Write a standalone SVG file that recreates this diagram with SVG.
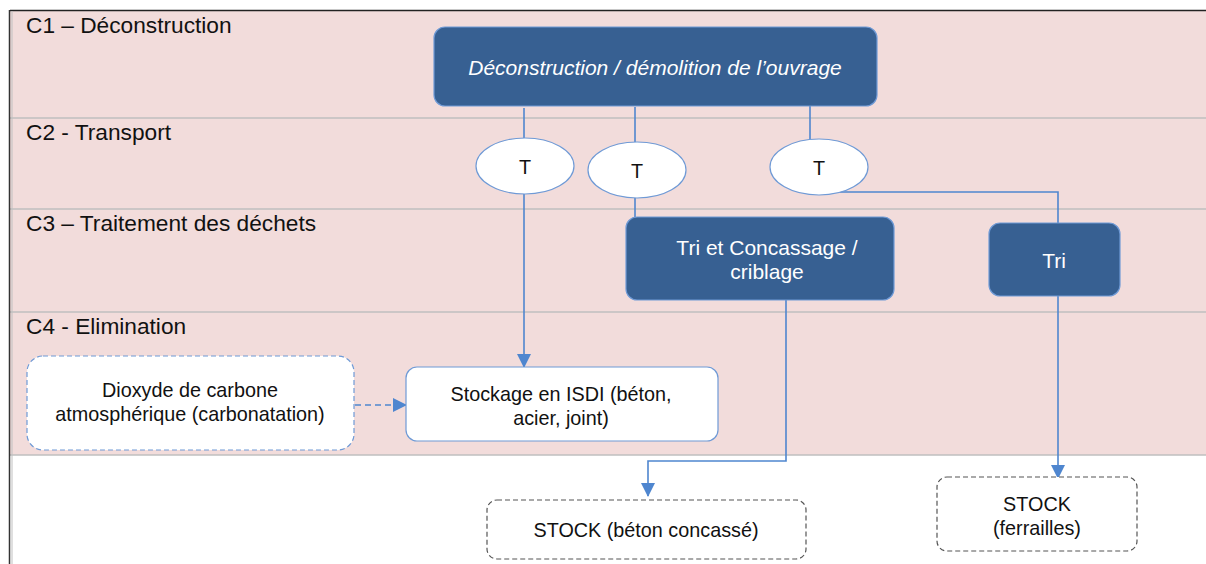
<svg xmlns="http://www.w3.org/2000/svg" width="1206" height="564" viewBox="0 0 1206 564">
<style>
.lane{font-family:"Liberation Sans",Arial,sans-serif;font-size:22.7px;fill:#111}
.dark{fill:#376092;stroke:#6f9ad6;stroke-width:1.2}
.wt{font-family:"Liberation Sans",Arial,sans-serif;font-size:21px;fill:#fff;text-anchor:middle}
.bt{font-family:"Liberation Sans",Arial,sans-serif;font-size:19.8px;fill:#111;text-anchor:middle}
.ell{fill:#fff;stroke:#6f9ad6;stroke-width:1.2}
.conn{fill:none;stroke:#4f86cf;stroke-width:1.6}
.sep{stroke:#bfbfbf;stroke-width:1.5}
</style>
<defs>
<marker id="ah2" markerWidth="14" markerHeight="14" refX="13" refY="7" orient="auto" markerUnits="userSpaceOnUse" viewBox="0 0 14 14">
<path d="M0,0 L14,7 L0,14 z" fill="#4f86cf"/>
</marker>
</defs>
<rect x="0" y="0" width="1206" height="564" fill="#fff"/>
<g id="lanes">
<rect x="10" y="10" width="1196" height="445" fill="#f2dcdb"/>
<line class="sep" x1="10" y1="118" x2="1206" y2="118"/>
<line class="sep" x1="10" y1="209" x2="1206" y2="209"/>
<line class="sep" x1="10" y1="312" x2="1206" y2="312"/>
<line class="sep" x1="10" y1="455" x2="1206" y2="455"/>
<line x1="10" y1="10.5" x2="1206" y2="10.5" stroke="#222" stroke-width="1.5"/>
<line x1="9.5" y1="10" x2="9.5" y2="564" stroke="#333" stroke-width="1.5"/>
<line x1="12" y1="11" x2="12" y2="564" stroke="#bfbfbf" stroke-width="1"/>
<text class="lane" x="26" y="33">C1 – Déconstruction</text>
<text class="lane" x="26" y="140">C2 - Transport</text>
<text class="lane" x="26" y="231">C3 – Traitement des déchets</text>
<text class="lane" x="26" y="334">C4 - Elimination</text>
</g>
<g id="connectors">
<line class="conn" x1="524" y1="108" x2="524" y2="138"/>
<line class="conn" x1="635" y1="107" x2="635" y2="142"/>
<line class="conn" x1="810" y1="102" x2="810" y2="139"/>
<path class="conn" d="M524,194 V367" marker-end="url(#ah2)"/>
<line class="conn" x1="635" y1="198" x2="635" y2="217"/>
<path class="conn" d="M840,192 H1058 V223"/>
<path class="conn" d="M786,300 V461 H648 V496" marker-end="url(#ah2)"/>
<path class="conn" d="M1058,296 V478" marker-end="url(#ah2)"/>
<path class="conn" d="M355,405 H406" stroke-dasharray="6,4" marker-end="url(#ah2)"/>
</g>
<g id="n-deconstruction">
<rect class="dark" x="434" y="27" width="443" height="79" rx="11"/>
<text class="wt" x="655" y="75" font-style="italic" font-size="21.7">Déconstruction / démolition de l’ouvrage</text>
</g>
<g id="n-t1">
<ellipse class="ell" cx="525" cy="166" rx="49" ry="28"/>
<text class="bt" x="525" y="174">T</text>
</g>
<g id="n-t2">
<ellipse class="ell" cx="637" cy="170" rx="49" ry="28"/>
<text class="bt" x="637" y="178">T</text>
</g>
<g id="n-t3">
<ellipse class="ell" cx="819" cy="167" rx="49" ry="28"/>
<text class="bt" x="819" y="175">T</text>
</g>
<g id="n-tri-concassage">
<rect class="dark" x="626" y="217" width="268" height="83" rx="11"/>
<text class="wt" x="767" y="255">Tri et Concassage /</text>
<text class="wt" x="767" y="279">criblage</text>
</g>
<g id="n-tri">
<rect class="dark" x="989" y="223" width="131" height="73" rx="11"/>
<text class="wt" x="1054" y="268">Tri</text>
</g>
<g id="n-stockage">
<rect x="406" y="367" width="312" height="74" rx="11" fill="#fff" stroke="#6f9ad6" stroke-width="1.2"/>
<text class="bt" x="561" y="401">Stockage en ISDI (béton,</text>
<text class="bt" x="561" y="425">acier, joint)</text>
</g>
<g id="n-dioxyde">
<rect x="27" y="356" width="327" height="94" rx="16" fill="#fff" stroke="#6f9ad6" stroke-width="1.2" stroke-dasharray="5,3"/>
<text class="bt" x="190" y="397">Dioxyde de carbone</text>
<text class="bt" x="190" y="421">atmosphérique (carbonatation)</text>
</g>
<g id="n-stock-beton">
<rect x="487" y="500" width="319" height="59" rx="10" fill="#fff" stroke="#555" stroke-width="1.2" stroke-dasharray="5,3"/>
<text class="bt" x="646" y="537">STOCK (béton concassé)</text>
</g>
<g id="n-stock-ferrailles">
<rect x="937" y="477" width="200" height="74" rx="10" fill="#fff" stroke="#555" stroke-width="1.2" stroke-dasharray="5,3"/>
<text class="bt" x="1037" y="511">STOCK</text>
<text class="bt" x="1037" y="535">(ferrailles)</text>
</g>
</svg>
